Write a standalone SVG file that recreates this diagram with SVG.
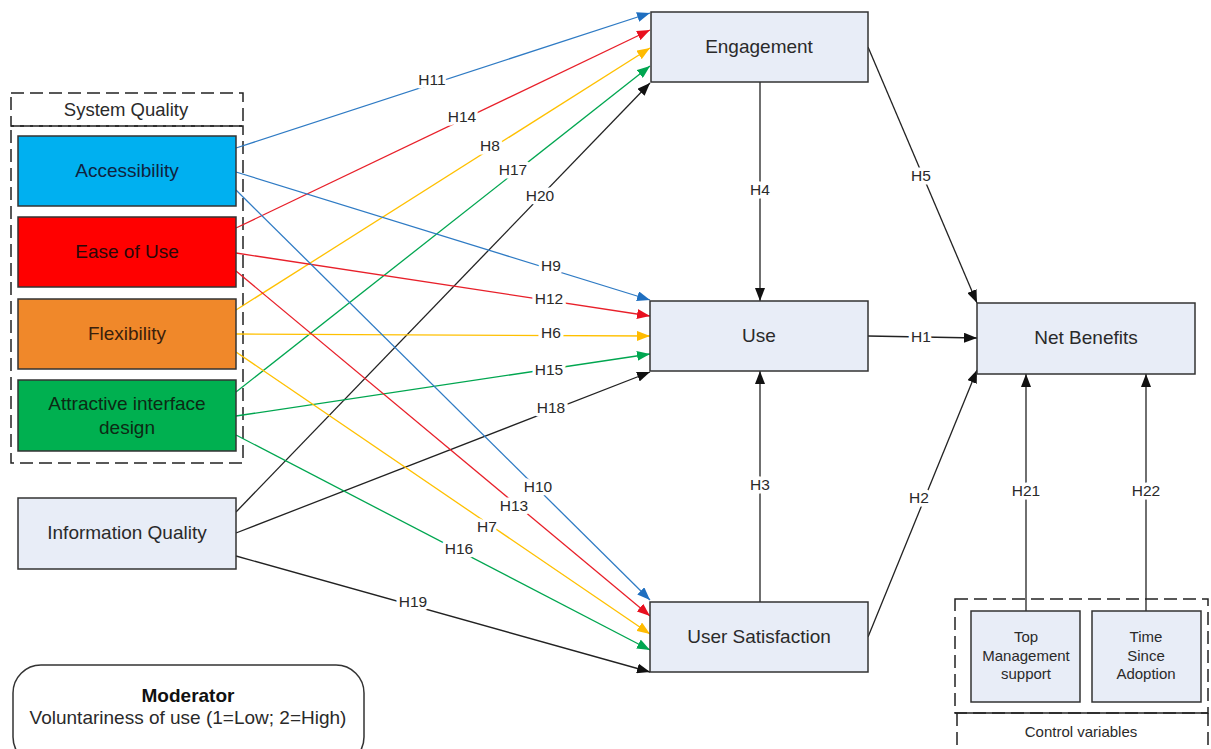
<svg xmlns="http://www.w3.org/2000/svg" width="1211" height="749" viewBox="0 0 1211 749">
  <style>
    text { font-family: "Liberation Sans", Arial, sans-serif; fill: #2a2a2a; }
    .box { stroke: #333; stroke-width: 1.5; }
    .light { fill: #e8edf7; }
    .name { font-size: 19px; text-anchor: middle; }
    .small { font-size: 15px; text-anchor: middle; }
    .dash { fill: none; stroke: #222; stroke-width: 1.5; stroke-dasharray: 13 6; }
    .lbl { font-size: 15.5px; text-anchor: middle; paint-order: stroke; stroke: #fff; stroke-width: 7px; stroke-linejoin: round; }
    .c line { stroke-width: 1.3; fill: none; }
    .blue { stroke: #2f7bc4; }
    .red { stroke: #e8202a; }
    .yel { stroke: #ffc000; }
    .grn { stroke: #00a650; }
    .blk { stroke: #222; }
  </style>
  <defs>
    <marker id="aBlue" markerUnits="userSpaceOnUse" markerWidth="14" markerHeight="10" refX="13" refY="5" orient="auto"><path d="M0,0 L13,5 L0,10 z" fill="#1f6fc0"/></marker>
    <marker id="aRed" markerUnits="userSpaceOnUse" markerWidth="14" markerHeight="10" refX="13" refY="5" orient="auto"><path d="M0,0 L13,5 L0,10 z" fill="#e8101f"/></marker>
    <marker id="aYel" markerUnits="userSpaceOnUse" markerWidth="14" markerHeight="10" refX="13" refY="5" orient="auto"><path d="M0,0 L13,5 L0,10 z" fill="#ffbb00"/></marker>
    <marker id="aGrn" markerUnits="userSpaceOnUse" markerWidth="14" markerHeight="10" refX="13" refY="5" orient="auto"><path d="M0,0 L13,5 L0,10 z" fill="#00a650"/></marker>
    <marker id="aBlk" markerUnits="userSpaceOnUse" markerWidth="14" markerHeight="10" refX="13" refY="5" orient="auto"><path d="M0,0 L13,5 L0,10 z" fill="#111"/></marker>
  </defs>

  <!-- System Quality group frame -->
  <g id="system-quality">
    <rect class="dash" x="11" y="93" width="232" height="33"/>
    <rect class="dash" x="11" y="126" width="232" height="337"/>
    <text x="126" y="116" class="name" style="font-size:18.5px">System Quality</text>
  </g>

  <!-- Connectors -->
  <g id="connectors" class="c">
    <!-- to Engagement -->
    <line class="blue" x1="236" y1="148" x2="650" y2="13" marker-end="url(#aBlue)"/>
    <line class="red" x1="236" y1="228" x2="650" y2="30" marker-end="url(#aRed)"/>
    <line class="yel" x1="236" y1="310" x2="650" y2="48" marker-end="url(#aYel)"/>
    <line class="grn" x1="236" y1="392" x2="650" y2="66" marker-end="url(#aGrn)"/>
    <line class="blk" x1="236" y1="512" x2="650" y2="83" marker-end="url(#aBlk)"/>
    <!-- to Use -->
    <line class="blue" x1="236" y1="172" x2="650" y2="300" marker-end="url(#aBlue)"/>
    <line class="red" x1="236" y1="253" x2="650" y2="316" marker-end="url(#aRed)"/>
    <line class="yel" x1="236" y1="334" x2="650" y2="336" marker-end="url(#aYel)"/>
    <line class="grn" x1="236" y1="416" x2="650" y2="354" marker-end="url(#aGrn)"/>
    <line class="blk" x1="236" y1="533" x2="650" y2="372" marker-end="url(#aBlk)"/>
    <!-- to User Satisfaction -->
    <line class="blue" x1="236" y1="190" x2="650" y2="600" marker-end="url(#aBlue)"/>
    <line class="red" x1="236" y1="271" x2="650" y2="616" marker-end="url(#aRed)"/>
    <line class="yel" x1="236" y1="352" x2="650" y2="634" marker-end="url(#aYel)"/>
    <line class="grn" x1="236" y1="435" x2="650" y2="650" marker-end="url(#aGrn)"/>
    <line class="blk" x1="236" y1="556" x2="650" y2="672" marker-end="url(#aBlk)"/>
    <!-- structural paths -->
    <line class="blk" x1="760" y1="82" x2="760" y2="301" marker-end="url(#aBlk)"/>
    <line class="blk" x1="760" y1="602" x2="760" y2="371" marker-end="url(#aBlk)"/>
    <line class="blk" x1="868" y1="336" x2="977" y2="338" marker-end="url(#aBlk)"/>
    <line class="blk" x1="868" y1="47" x2="977" y2="303" marker-end="url(#aBlk)"/>
    <line class="blk" x1="868" y1="637" x2="977" y2="370" marker-end="url(#aBlk)"/>
    <line class="blk" x1="1026" y1="611" x2="1026" y2="374" marker-end="url(#aBlk)"/>
    <line class="blk" x1="1146" y1="611" x2="1146" y2="374" marker-end="url(#aBlk)"/>

    <!-- hypothesis labels -->
    <text class="lbl" x="432" y="85">H11</text>
    <text class="lbl" x="462" y="122">H14</text>
    <text class="lbl" x="490" y="151">H8</text>
    <text class="lbl" x="513" y="175">H17</text>
    <text class="lbl" x="540" y="201">H20</text>
    <text class="lbl" x="551" y="271">H9</text>
    <text class="lbl" x="549" y="304">H12</text>
    <text class="lbl" x="551" y="338">H6</text>
    <text class="lbl" x="549" y="375">H15</text>
    <text class="lbl" x="551" y="413">H18</text>
    <text class="lbl" x="538" y="492">H10</text>
    <text class="lbl" x="514" y="511">H13</text>
    <text class="lbl" x="487" y="532">H7</text>
    <text class="lbl" x="459" y="554">H16</text>
    <text class="lbl" x="413" y="607">H19</text>
    <text class="lbl" x="760" y="195">H4</text>
    <text class="lbl" x="760" y="490">H3</text>
    <text class="lbl" x="921" y="342">H1</text>
    <text class="lbl" x="921" y="181">H5</text>
    <text class="lbl" x="919" y="503">H2</text>
    <text class="lbl" x="1026" y="496">H21</text>
    <text class="lbl" x="1146" y="496">H22</text>
  </g>

  <!-- Nodes -->
  <g id="accessibility">
    <rect class="box" x="18" y="136" width="218" height="70" fill="#00b0f0"/>
    <text class="name" x="127" y="177" style="fill:#10233e">Accessibility</text>
  </g>
  <g id="ease-of-use">
    <rect class="box" x="18" y="217" width="218" height="70" fill="#ff0000"/>
    <text class="name" x="127" y="258" style="fill:#2a0808">Ease of Use</text>
  </g>
  <g id="flexibility">
    <rect class="box" x="18" y="299" width="218" height="70" fill="#f0882a"/>
    <text class="name" x="127" y="340" style="fill:#3a200c">Flexibility</text>
  </g>
  <g id="attractive-interface-design">
    <rect class="box" x="18" y="380" width="218" height="71" fill="#00b050"/>
    <text class="name" x="127" y="410" style="fill:#0c2a14">Attractive interface</text>
    <text class="name" x="127" y="434" style="fill:#0c2a14">design</text>
  </g>
  <g id="information-quality">
    <rect class="box light" x="18" y="498" width="218" height="71"/>
    <text class="name" x="127" y="539">Information Quality</text>
  </g>
  <g id="engagement">
    <rect class="box light" x="651" y="12" width="217" height="70"/>
    <text class="name" x="759" y="53">Engagement</text>
  </g>
  <g id="use">
    <rect class="box light" x="650" y="301" width="218" height="70"/>
    <text class="name" x="759" y="342">Use</text>
  </g>
  <g id="user-satisfaction">
    <rect class="box light" x="650" y="602" width="218" height="70"/>
    <text class="name" x="759" y="643">User Satisfaction</text>
  </g>
  <g id="net-benefits">
    <rect class="box light" x="977" y="303" width="218" height="71"/>
    <text class="name" x="1086" y="344">Net Benefits</text>
  </g>

  <!-- Control variables frame -->
  <g id="control-variables">
    <rect class="dash" x="955" y="599" width="253" height="114"/>
    <line x1="955" y1="713" x2="1208" y2="713" stroke="#222" stroke-width="1.5"/>
    <line class="dash" x1="957" y1="713" x2="957" y2="749"/>
    <line class="dash" x1="1208" y1="713" x2="1208" y2="749"/>
    <text class="small" x="1081" y="737">Control variables</text>
  </g>
  <g id="top-management-support">
    <rect class="box light" x="971" y="611" width="109" height="91"/>
    <text class="small" x="1026" y="642">Top</text>
    <text class="small" x="1026" y="661">Management</text>
    <text class="small" x="1026" y="679">support</text>
  </g>
  <g id="time-since-adoption">
    <rect class="box light" x="1092" y="611" width="109" height="91"/>
    <text class="small" x="1146" y="642">Time</text>
    <text class="small" x="1146" y="661">Since</text>
    <text class="small" x="1146" y="679">Adoption</text>
  </g>

  <!-- Moderator -->
  <g id="moderator">
    <rect x="13" y="665" width="351" height="100" rx="28" ry="28" fill="#fff" stroke="#333" stroke-width="1.5"/>
    <text x="188" y="702" class="name" style="font-weight:bold;fill:#111">Moderator</text>
    <text x="188" y="724" class="name">Voluntariness of use (1=Low; 2=High)</text>
  </g>
</svg>
